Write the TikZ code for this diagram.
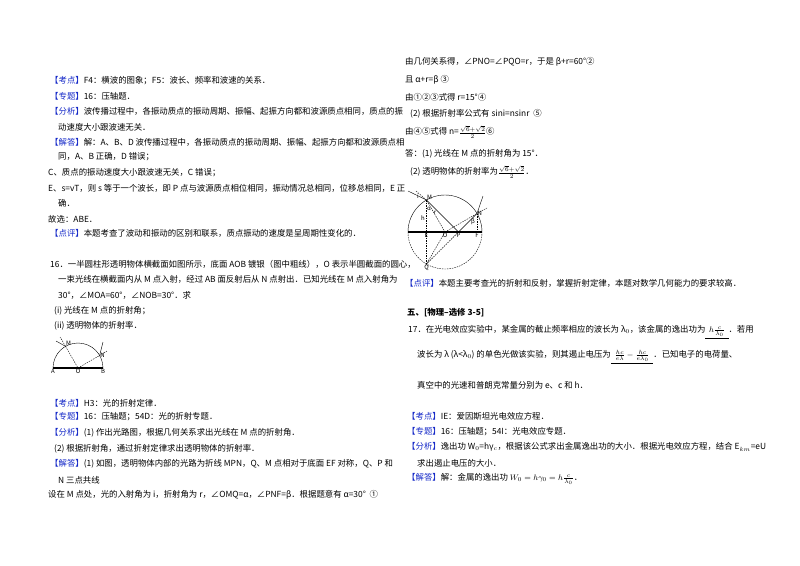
\documentclass[tikz,border=0pt]{standalone}
\usepackage{fontspec}
\setmainfont{Noto Sans CJK SC}
\definecolor{tagblue}{RGB}{20,40,200}
\newcommand{\tg}[1]{{\color{tagblue}【#1】}}
\tikzset{
  txt/.style={anchor=west,inner sep=0pt,font=\fontsize{8.4}{10}\selectfont},
  lbl/.style={inner sep=0.5pt,font=\fontsize{6}{7}\selectfont},
  ray/.style={line width=0.4pt},
  aux/.style={line width=0.4pt,dashed,dash pattern=on 1.5pt off 1pt}
}
\begin{document}
\begin{tikzpicture}[x=1pt,y=-1pt]
    \useasboundingbox (0,0) rectangle (800,565);
    \fill[white] (0,0) rectangle (800,565);

    % question 15 answer
    \node[txt] (kd1) at (50,81) {\tg{考点}F4：横波的图象；F5：波长、频率和波速的关系．};
    \node[txt] (zt1) at (50,96) {\tg{专题}16：压轴题．};
    \node[txt] (fx1) at (50,111) {\tg{分析}波传播过程中，各振动质点的振动周期、振幅、起振方向都和波源质点相同，质点的振};
    \node[txt] (fx1b) at (58,127) {动速度大小跟波速无关．};
    \node[txt] (jd1) at (50,142) {\tg{解答}解：A、B、D 波传播过程中，各振动质点的振动周期、振幅、起振方向都和波源质点相};
    \node[txt] (jd1b) at (58,157) {同，A、B 正确，D 错误；};
    \node[txt] (jdC) at (48,173) {C、质点的振动速度大小跟波速无关，C 错误；};
    \node[txt] (jdE) at (48,188) {E、s=vT，则 s 等于一个波长，即 P 点与波源质点相位相同，振动情况总相同，位移总相同，E 正};
    \node[txt] (jdEb) at (58,203) {确．};
    \node[txt] (gx1) at (48,219) {故选：ABE．};
    \node[txt] (dp1) at (50,233) {\tg{点评}本题考查了波动和振动的区别和联系，质点振动的速度是呈周期性变化的．};

    % question 16
    \node[txt] (q16a) at (50,264) {16．一半圆柱形透明物体横截面如图所示，底面 AOB 镀银（图中粗线），O 表示半圆截面的圆心，};
    \node[txt] (q16b) at (58,279) {一束光线在横截面内从 M 点入射，经过 AB 面反射后从 N 点射出．已知光线在 M 点入射角为};
    \node[txt] (q16c) at (58,295) {30°，∠MOA=60°，∠NOB=30°．求};
    \node[txt] (q16d) at (54,311) {(i) 光线在 M 点的折射角；};
    \node[txt] (q16e) at (54,326) {(ii) 透明物体的折射率．};

    % small figure
    \coordinate (o1) at (78,368);
    \coordinate (a1) at (53,368);
    \coordinate (b1) at (103,368);
    \coordinate (m1) at (65.5,346.3);
    \coordinate (n1) at (99.6,355.5);
    \coordinate (m1in) at (56,341);
    \coordinate (m1nr) at (60,337);
    \coordinate (n1out) at (103,342);
    \coordinate (n1nr) at (107,351);
    \draw[ray] (b1) arc (0:-180:25);
    \draw[line width=1.4pt] (a1) -- (b1);
    \draw[aux] (m1) -- (o1) -- (n1);
    \draw[aux] (m1) -- (m1nr);
    \draw[ray] (m1in) -- (m1);
    \draw[aux] (n1) -- (n1nr);
    \draw[ray] (n1) -- (n1out);
    \node[lbl,below] (la1) at (a1) {A};
    \node[lbl,below] (lo1) at (o1) {O};
    \node[lbl,below] (lb1) at (b1) {B};
    \node[lbl,above right] (lm1) at (m1) {M};
    \node[lbl,right] (ln1) at (n1) {N};

    \node[txt] (kd2) at (50,403) {\tg{考点}H3：光的折射定律．};
    \node[txt] (zt2) at (50,417) {\tg{专题}16：压轴题；54D：光的折射专题．};
    \node[txt] (fx2) at (50,433) {\tg{分析}(1) 作出光路图，根据几何关系求出光线在 M 点的折射角．};
    \node[txt] (fx2b) at (54,449) {(2) 根据折射角，通过折射定律求出透明物体的折射率．};
    \node[txt] (jd2) at (50,464) {\tg{解答}(1) 如图，透明物体内部的光路为折线 MPN，Q、M 点相对于底面 EF 对称，Q、P 和};
    \node[txt] (jd2b) at (58,480) {N 三点共线};
    \node[txt] (jd2c) at (48,495) {设在 M 点处，光的入射角为 i，折射角为 r，∠OMQ=α，∠PNF=β．根据题意有 α=30°\ \ ①};

    % right column
    \node[txt] (r1) at (405,62) {由几何关系得，∠PNO=∠PQO=r，于是 β+r=60°②};
    \node[txt] (r2) at (405,80) {且 α+r=β ③};
    \node[txt] (r3) at (405,97) {由①②③式得 r=15°④};
    \node[txt] (r4) at (410,114) {(2) 根据折射率公式有 sini=nsinr\ \ ⑤};
    \node[txt] (r5) at (405,132) {由④⑤式得 n=$\frac{\sqrt6+\sqrt2}{2}$⑥};
    \node[txt] (r6) at (405,154) {答：(1) 光线在 M 点的折射角为 15°．};
    \node[txt] (r7) at (410,172) {(2) 透明物体的折射率为$\frac{\sqrt6+\sqrt2}{2}$．};

    % big figure
    \coordinate (o2) at (445,232);
    \coordinate (e2) at (426.5,232);
    \coordinate (f2) at (477,232);
    \coordinate (m2) at (426.5,200);
    \coordinate (q2) at (426.5,264);
    \coordinate (n2) at (477,213.5);
    \coordinate (p2) at (458.5,232);
    \coordinate (m2in) at (408,191);
    \coordinate (m2nr) at (416,191);
    \coordinate (n2out) at (483,196);
    \coordinate (n2nr) at (487,208);
    \draw[ray] (482,232) arc (0:-180:37);
    \draw[aux] (408,232) arc (180:0:37);
    \draw[line width=1.4pt] (408,232) -- (482,232);
    \draw[aux] (m2) -- (q2);
    \draw[aux] (n2) -- (f2);
    \draw[aux] (m2nr) -- (m2) -- (o2) -- (q2) -- (p2);
    \draw[aux] (o2) -- (n2) -- (n2nr);
    \draw[ray] (m2in) -- (m2) -- (p2) -- (n2) -- (n2out);
    \fill (o2) circle (1pt);
    \node[lbl,above right] (lm2) at (m2) {M};
    \node[lbl,right] (ln2) at (n2) {N};
    \node[lbl,below] (le2) at (e2) {E};
    \node[lbl,below] (lo2) at (o2) {O};
    \node[lbl,below] (lp2) at (p2) {P};
    \node[lbl,below] (lf2) at (f2) {F};
    \node[lbl,below] (lq2) at (q2) {Q};
    \node[lbl] (lh2) at (423,218) {h};
    \node[lbl] (lal) at (429,209) {α};
    \node[lbl] (lr2) at (435,213) {r};
    \node[lbl] (lbe) at (473,222) {β};
    \node[lbl] (li2) at (418,196) {i};

    \node[txt] (dp2) at (405,283) {\tg{点评}本题主要考查光的折射和反射，掌握折射定律，本题对数学几何能力的要求较高．};

    % question 17
    \node[txt] (sec5) at (407,313) {\textbf{五、[物理--选修 3-5]}};
    \node[txt] (q17a) at (408,332) {17．在光电效应实验中，某金属的截止频率相应的波长为 λ$_0$，该金属的逸出功为\underline{\ \ $h\frac{c}{\lambda_0}$\ \ }．若用};
    \node[txt] (q17b) at (417,357) {波长为 λ (λ<λ$_0$) 的单色光做该实验，则其遏止电压为\underline{\ \ $\frac{hc}{e\lambda}-\frac{hc}{e\lambda_0}$\ \ }．已知电子的电荷量、};
    \node[txt] (q17c) at (417,385) {真空中的光速和普朗克常量分别为 e、c 和 h．};
    \node[txt] (kd3) at (407,416) {\tg{考点}IE：爱因斯坦光电效应方程．};
    \node[txt] (zt3) at (407,432) {\tg{专题}16：压轴题；54I：光电效应专题．};
    \node[txt] (fx3) at (407,447) {\tg{分析}逸出功 W$_0$=hγ$_c$，根据该公式求出金属逸出功的大小．根据光电效应方程，结合 E$_{km}$=eU};
    \node[txt] (fx3b) at (417,463) {求出遏止电压的大小．};
    \node[txt] (jd3) at (407,479) {\tg{解答}解：金属的逸出功 $W_0=h\gamma_0=h\frac{c}{\lambda_0}$．};
\end{tikzpicture}
\end{document}
